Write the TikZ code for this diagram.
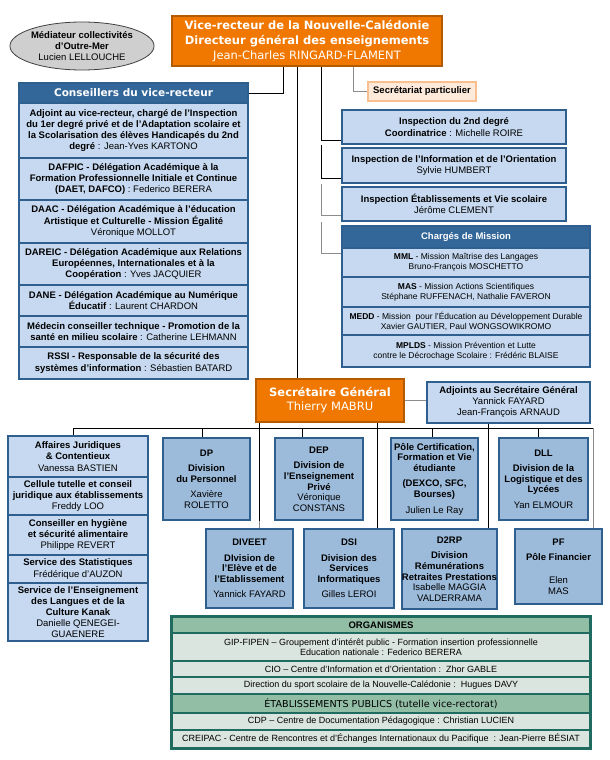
\documentclass[tikz,border=0pt]{standalone}
\usepackage{fontspec}
\setmainfont{Liberation Sans}
\newfontfamily\hdfont{DejaVu Sans}
\usetikzlibrary{shapes.geometric}
\definecolor{orF}{HTML}{F07800}
\definecolor{orD}{HTML}{B45A00}
\definecolor{hdB}{HTML}{336699}
\definecolor{ltB}{HTML}{C6D9F0}
\definecolor{mdB}{HTML}{9CBBDB}
\definecolor{bdB}{HTML}{2F5F8F}
\definecolor{elG}{HTML}{CFCFCF}
\definecolor{pcF}{HTML}{FDEADA}
\definecolor{pcD}{HTML}{F9BF8F}
\definecolor{grH}{HTML}{93BEA6}
\definecolor{grL}{HTML}{DBE5E0}
\definecolor{grD}{HTML}{1F6B5F}
\definecolor{lnG}{HTML}{8C8C8C}
\tikzset{
  wh/.style 2 args={minimum width=#1pt, minimum height=#2pt},
  bx/.style={rectangle, inner sep=0pt, align=center, font=\fontsize{9.5}{11.2}\selectfont},
  lbx/.style={bx, draw=bdB, fill=ltB, line width=1.5pt},
  dbx/.style={bx, draw=bdB, fill=mdB, line width=2pt, font=\fontsize{9.5}{10.6}\selectfont},
  obx/.style={bx, draw=orD, fill=orF, line width=2pt, text=white},
  hbx/.style={bx, draw=bdB, fill=hdB, line width=1.5pt, text=white},
  cmx/.style={lbx, font=\fontsize{8.5}{10}\selectfont},
  orow/.style={bx, draw=grD, fill=grL, line width=1.5pt, font=\fontsize{9}{10}\selectfont},
  ohd/.style={orow, fill=grH},
  conn/.style={draw=black, line width=0.9pt},
  gconn/.style={draw=lnG, line width=1pt},
}
\begin{document}
\begin{tikzpicture}[x=1pt,y=-1pt]
\fill[white] (0,0) rectangle (610,760);
\useasboundingbox (0,0) rectangle (610,760);

% coordinates for connector columns
\coordinate (xc) at (283,0);
\coordinate (xsg) at (297,0);
\coordinate (xi) at (321,0);
\coordinate (xs) at (353,0);
\coordinate (busL) at (73,428);
\coordinate (busR) at (593,428);

% top
\node[ellipse, draw=black!75, fill=elG, line width=0.8pt, inner sep=0pt, wh={144}{48}, align=center, font=\fontsize{9.5}{11}\selectfont] (med) at (82,46)
 {\textbf{Médiateur collectivités}\\\textbf{d’Outre-Mer}\\Lucien LELLOUCHE};
\node[obx, wh={270}{50}, font=\hdfont\fontsize{11.5}{15}\selectfont] (vr) at (307,41)
 {\textbf{Vice-recteur de la Nouvelle-Calédonie}\\\textbf{Directeur général des enseignements}\\Jean-Charles RINGARD-FLAMENT};
\node[bx, draw=pcD, fill=pcF, line width=1.5pt, wh={108}{19}] (sp) at (422,91.5) {\textbf{Secrétariat particulier}};

% conseillers
\node[hbx, wh={229}{20}, font=\hdfont\bfseries\fontsize{10.5}{12}\selectfont] (ch) at (133.5,93) {Conseillers du vice-recteur};
\node[lbx, wh={229}{55}] (c1) at (133.5,130.5) {\textbf{Adjoint au vice-recteur, chargé de l’Inspection}\\\textbf{du 1er degré privé et de l’Adaptation scolaire et}\\\textbf{la Scolarisation des élèves Handicapés du 2nd}\\\textbf{degré} : Jean-Yves KARTONO};
\node[lbx, wh={229}{42}] (c2) at (133.5,179) {\textbf{DAFPIC - Délégation Académique à la}\\\textbf{Formation Professionnelle Initiale et Continue}\\\textbf{(DAET, DAFCO)} : Federico BERERA};
\node[lbx, wh={229}{43}] (c3) at (133.5,221.5) {\textbf{DAAC - Délégation Académique à l’éducation}\\\textbf{Artistique et Culturelle - Mission Égalité}\\Véronique MOLLOT};
\node[lbx, wh={229}{42}] (c4) at (133.5,264) {\textbf{DAREIC - Délégation Académique aux Relations}\\\textbf{Européennes, Internationales et à la}\\\textbf{Coopération} : Yves JACQUIER};
\node[lbx, wh={229}{31}] (c5) at (133.5,300.5) {\textbf{DANE - Délégation Académique au Numérique}\\\textbf{Éducatif} : Laurent CHARDON};
\node[lbx, wh={229}{31}] (c6) at (133.5,331.5) {\textbf{Médecin conseiller technique - Promotion de la}\\\textbf{santé en milieu scolaire} : Catherine LEHMANN};
\node[lbx, wh={229}{32}] (c7) at (133.5,363) {\textbf{RSSI - Responsable de la sécurité des}\\\textbf{systèmes d’information} : Sébastien BATARD};

% inspections
\node[lbx, wh={224}{34}] (insp2) at (454,127) {\textbf{Inspection du 2nd degré}\\\textbf{Coordinatrice} : Michelle ROIRE};
\node[lbx, wh={224}{35}] (inspio) at (454,165.5) {\textbf{Inspection de l’Information et de l’Orientation}\\Sylvie HUMBERT};
\node[lbx, wh={224}{34}] (inspet) at (454,204) {\textbf{Inspection Établissements et Vie scolaire}\\Jérôme CLEMENT};

% charges de mission
\node[hbx, wh={248}{22}] (cmh) at (466,237) {\textbf{Chargés de Mission}};
\node[cmx, wh={248}{29}] (mml) at (466,262.5) {\textbf{MML} - Mission Maîtrise des Langages\\Bruno-François MOSCHETTO};
\node[cmx, wh={248}{30}] (mas) at (466,292) {\textbf{MAS} - Mission Actions Scientifiques\\Stéphane RUFFENACH, Nathalie FAVERON};
\node[cmx, wh={248}{28}] (medd) at (466,321) {\textbf{MEDD} - Mission\ \ pour l’Éducation au Développement Durable\\Xavier GAUTIER, Paul WONGSOWIKROMO};
\node[cmx, wh={248}{32}] (mpl) at (466,351) {\textbf{MPLDS} - Mission Prévention et Lutte\\contre le Décrochage Scolaire : Frédéric BLAISE};

% secretaire general
\node[obx, wh={148}{43}, font=\hdfont\fontsize{11.5}{14}\selectfont] (sg) at (330,400.5) {\textbf{Secrétaire Général}\\Thierry MABRU};
\node[lbx, wh={163}{41}, font=\fontsize{9.5}{11}\selectfont] (adj) at (508.5,402.5) {\textbf{Adjoints au Secrétaire Général}\\Yannick FAYARD\\Jean-François ARNAUD};

% left column
\node[lbx, wh={140}{41}] (aj) at (78,456.5) {\textbf{Affaires Juridiques}\\\textbf{\& Contentieux}\\Vanessa BASTIEN};
\node[lbx, wh={140}{38}] (ct) at (78,496) {\textbf{Cellule tutelle et conseil}\\\textbf{juridique aux établissements}\\Freddy LOO};
\node[lbx, wh={140}{40}] (chy) at (78,535) {\textbf{Conseiller en hygiène}\\\textbf{et sécurité alimentaire}\\Philippe REVERT};
\node[lbx, wh={140}{28}] (ss) at (78,569) {\textbf{Service des Statistiques}\\Frédérique d’AUZON};
\node[lbx, wh={140}{58}, font=\fontsize{9.5}{10.8}\selectfont] (se) at (78,612) {\textbf{Service de l’Enseignement}\\\textbf{des Langues et de la}\\\textbf{Culture Kanak}\\Danielle QENEGEI-\\GUAENERE};

% divisions
\node[dbx, wh={87}{82}] (dp) at (206.5,479) {\textbf{DP}\\[5pt]\textbf{Division}\\\textbf{du Personnel}\\[5pt]Xavière\\ROLETTO};
\node[dbx, wh={88}{82}] (dep) at (319,479) {\textbf{DEP}\\[5pt]\textbf{Division de}\\\textbf{l’Enseignement}\\\textbf{Privé}\\Véronique\\CONSTANS};
\node[dbx, wh={87}{82}] (pole) at (434.5,479) {\textbf{Pôle Certification,}\\\textbf{Formation et Vie}\\\textbf{étudiante}\\[5pt]\textbf{(DEXCO, SFC,}\\\textbf{Bourses)}\\[5pt]Julien Le Ray};
\node[dbx, wh={89}{82}] (dll) at (543.5,479) {\textbf{DLL}\\[5pt]\textbf{Division de la}\\\textbf{Logistique et des}\\\textbf{Lycées}\\[5pt]Yan ELMOUR};
\node[dbx, wh={87}{79}] (diveet) at (249.5,568.5) {\textbf{DIVEET}\\[5pt]\textbf{DIvision de}\\\textbf{l’Elève et de}\\\textbf{l’Etablissement}\\[5pt]Yannick FAYARD};
\node[dbx, wh={90}{79}] (dsi) at (349,568.5) {\textbf{DSI}\\[5pt]\textbf{Division des}\\\textbf{Services}\\\textbf{Informatiques}\\[5pt]Gilles LEROI};
\node[dbx, wh={93}{80}] (d2rp) at (449.5,569) {\textbf{D2RP}\\[5pt]\textbf{Division}\\\textbf{Rémunérations}\\\textbf{Retraites Prestations}\\Isabelle MAGGIA\\VALDERRAMA};
\node[dbx, wh={87}{75}] (pf) at (558.5,566.5) {\textbf{PF}\\[5pt]\textbf{Pôle Financier}\\[12pt]Elen\\MAS};

% organismes
\node[ohd, wh={418}{16}, font=\fontsize{9.5}{10}\selectfont] (org) at (381,625) {\textbf{ORGANISMES}};
\node[orow, wh={418}{28}] (gip) at (381,647) {GIP-FIPEN – Groupement d’intérêt public - Formation insertion professionnelle\\Education nationale : Federico BERERA};
\node[orow, wh={418}{16}] (cio) at (381,669) {CIO – Centre d’Information et d’Orientation :\ \ Zhor GABLE};
\node[orow, wh={418}{17}] (dir) at (381,685.5) {Direction du sport scolaire de la Nouvelle-Calédonie :\ \ Hugues DAVY};
\node[ohd, wh={418}{19}, font=\hdfont\fontsize{9.6}{11}\selectfont] (etab) at (381,703.5) {ÉTABLISSEMENTS PUBLICS (tutelle vice-rectorat)};
\node[orow, wh={418}{17}] (cdp) at (381,721.5) {CDP – Centre de Documentation Pédagogique : Christian LUCIEN};
\node[orow, wh={418}{18}] (cre) at (381,739) {CREIPAC - Centre de Rencontres et d’Échanges Internationaux du Pacifique\ \ : Jean-Pierre BÉSIAT};
\draw[grD, line width=2pt] (org.north west) rectangle (cre.south east);

% connectors
\draw[conn] (vr.south -| xc) |- (ch.east);
\draw[conn] (vr.south -| xsg) -- (sg.north -| xsg);
\draw[conn] (vr.south -| xi) |- ([yshift=4pt]insp2.south west);
\draw[conn] (xi |- insp2.south) |- ([yshift=5pt]inspio.south west);
\draw[gconn] (xi |- inspio.south) |- ([yshift=6pt]inspet.south west);
\draw[gconn] (xi |- inspet.south) |- ([yshift=-5pt]cmh.south west);
\draw[gconn] (vr.south -| xs) |- (sp.west);
\draw[gconn] (sg.east) -- (sg.east -| adj.west);

\draw[conn] (busL) -- (busR);
\draw[conn] (busL) -- (busL |- aj.north);
\draw[conn] ([xshift=-4pt]dp.north) -- ([xshift=-4pt]dp.north |- busL);
\draw[conn] ([xshift=-17pt]dep.north) -- ([xshift=-17pt]dep.north |- busL);
\draw[conn] ([xshift=-2pt]pole.north) -- ([xshift=-2pt]pole.north |- busL);
\draw[conn] ([xshift=-5pt]dll.north) -- ([xshift=-5pt]dll.north |- busL);
\draw[conn] ([xshift=9.5pt]diveet.north |- sg.south) -- ([xshift=9.5pt]diveet.north |- dp.south);
\draw[gconn] ([xshift=9.5pt]diveet.north |- dp.south) -- ([xshift=9.5pt]diveet.north);
\draw[conn] ([xshift=28pt]dsi.north |- sg.south) -- ([xshift=28pt]dsi.north);
\draw[conn] ([xshift=38.5pt]d2rp.north |- adj.south) -- ([xshift=38.5pt]d2rp.north);
\draw[gconn] (busR) -- (busR |- pf.north);
\end{tikzpicture}
\end{document}
